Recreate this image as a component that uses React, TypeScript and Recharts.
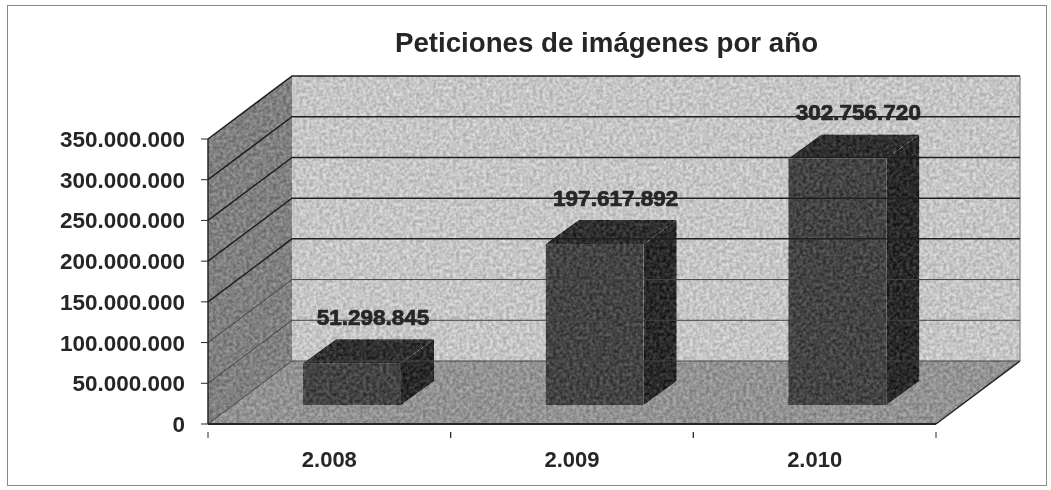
import { BarChart, Bar, XAxis, YAxis, ReferenceArea, ReferenceLine, LabelList } from 'recharts';

const years = ['2.008', '2.009', '2.010'];
const requests = [51298845, 197617892, 302756720];
const yTicks = [0, 50000000, 100000000, 150000000, 200000000, 250000000, 300000000, 350000000];

const chartData = years.map((year, i) => ({ year, requests: requests[i] }));

// 3D look: how far the walls and the bars recede
const DEPTH_X = 84;
const DEPTH_Y = 63;
const BAR_SHIFT_X = 23;
const BAR_SHIFT_Y = 19;
const BAR_DEPTH_X = 33;
const BAR_DEPTH_Y = 24;

const BAND = (936 - 208) / years.length;
const font = '"Liberation Sans", Arial, sans-serif';
const ink = '#262626';

const formatNum = (v: number) => String(v).replace(/\B(?=(\d{3})+(?!\d))/g, '.');

function Walls({ x, y, width, height }: any) {
  const b = y + height;
  const r = x + width;
  return (
    <g>
      <defs>
        <filter id="grain" x="0" y="0" width="100%" height="100%" colorInterpolationFilters="sRGB">
          <feTurbulence type="fractalNoise" baseFrequency="0.3" numOctaves="2" seed="4" result="t" />
          <feColorMatrix in="t" values="1.8 0 0 0 -0.4  1.8 0 0 0 -0.4  1.8 0 0 0 -0.4  0 0 0 0 1" result="noise" />
          <feComposite in="SourceGraphic" in2="noise" operator="arithmetic" k1="0" k2="1" k3="0.2" k4="-0.1" result="mix" />
          <feComposite in="mix" in2="SourceAlpha" operator="in" />
        </filter>
      </defs>
      <polygon filter="url(#grain)" fill="#c6c6c6" points={`${x + DEPTH_X},${y - DEPTH_Y} ${r + DEPTH_X},${y - DEPTH_Y} ${r + DEPTH_X},${b - DEPTH_Y} ${x + DEPTH_X},${b - DEPTH_Y}`} />
      <polygon filter="url(#grain)" fill="#808080" points={`${x},${y} ${x + DEPTH_X},${y - DEPTH_Y} ${x + DEPTH_X},${b - DEPTH_Y} ${x},${b}`} />
      <polygon filter="url(#grain)" fill="#939393" points={`${x},${b} ${r},${b} ${r + DEPTH_X},${b - DEPTH_Y} ${x + DEPTH_X},${b - DEPTH_Y}`} />
      <polyline fill="none" stroke="#999" strokeWidth={1.5} points={`${r + DEPTH_X},${b - DEPTH_Y} ${r + DEPTH_X},${y - DEPTH_Y}`} />
      <polyline fill="none" stroke={ink} strokeWidth={1.5} points={`${r},${b} ${r + DEPTH_X},${b - DEPTH_Y}`} />
    </g>
  );
}

function GridLine({ x1, y1, x2, y2, thin }: any) {
  return (
    <polyline
      fill="none"
      stroke={thin ? '#444' : '#1f1f1f'}
      strokeWidth={thin ? 1 : 1.5}
      points={`${x1},${y1} ${x1 + DEPTH_X},${y1 - DEPTH_Y} ${x2 + DEPTH_X},${y2 - DEPTH_Y}`}
    />
  );
}

function Box({ x, y, width, height }: any) {
  const fx = x + BAR_SHIFT_X;
  const fy = y - BAR_SHIFT_Y;
  const r = fx + width;
  const b = fy + height;
  return (
    <g>
      <polygon filter="url(#grain)" fill="#2f2f2f" points={`${fx},${fy} ${fx + BAR_DEPTH_X},${fy - BAR_DEPTH_Y} ${r + BAR_DEPTH_X},${fy - BAR_DEPTH_Y} ${r},${fy}`} />
      <polygon filter="url(#grain)" fill="#292929" points={`${r},${fy} ${r + BAR_DEPTH_X},${fy - BAR_DEPTH_Y} ${r + BAR_DEPTH_X},${b - BAR_DEPTH_Y} ${r},${b}`} />
      <rect filter="url(#grain)" fill="#444444" x={fx} y={fy} width={width} height={height} />
    </g>
  );
}

function ValueLabel({ x, y, width, value }: any) {
  return (
    <text
      x={x + width / 2 + 44}
      y={y - 63}
      textAnchor="middle"
      dominantBaseline="middle"
      fontFamily={font}
      fontWeight="bold"
      fontSize={22.5}
      fill={ink}
      stroke={ink}
      strokeWidth={0.7}
    >
      {formatNum(value)}
    </text>
  );
}

function YearTick({ x, y, payload }: any) {
  return (
    <g>
      <line x1={x - BAND / 2} x2={x - BAND / 2} y1={y} y2={y + 6} stroke={ink} />
      <line x1={x + BAND / 2} x2={x + BAND / 2} y1={y} y2={y + 6} stroke={ink} />
      <text x={x} y={y + 29} textAnchor="middle" dominantBaseline="middle" fontFamily={font} fontWeight="bold" fontSize={22} fill={ink}>
        {payload.value}
      </text>
    </g>
  );
}

export default function App() {
  return (
    <div style={{ position: 'absolute', left: 0, top: 0, width: 1051, height: 490, background: '#fff', filter: 'blur(0.7px)' }}>
      <div style={{ position: 'absolute', left: 7, top: 5, width: 1038, height: 479, border: '1px solid #8a8a8a' }} />
      <div style={{ position: 'absolute', left: 0, width: 1213, top: 27, textAlign: 'center', fontFamily: font, fontWeight: 'bold', fontSize: 27.7, color: ink }}>
        Peticiones de imágenes por año
      </div>
      <div style={{ position: 'absolute', left: 0, top: 0 }}>
        <BarChart width={1051} height={490} data={chartData} margin={{ top: 139, right: 115, bottom: 0, left: 0 }} barSize={98}>
          <XAxis dataKey="year" height={66} tickLine={false} axisLine={{ stroke: ink, strokeWidth: 2 }} tick={<YearTick />} interval={0} />
          <YAxis
            width={208}
            domain={[0, 350000000]}
            ticks={yTicks}
            tickFormatter={formatNum}
            interval={0}
            axisLine={{ stroke: ink, strokeWidth: 1.5 }}
            tickLine={{ stroke: ink }}
            tickSize={7}
            tickMargin={16}
            tick={{ fontFamily: font, fontWeight: 'bold', fontSize: 22.5, fill: ink }}
          />
          <ReferenceArea y1={0} y2={350000000} shape={<Walls />} />
          {yTicks.map(t => (
            <ReferenceLine key={t} y={t} shape={<GridLine thin={t <= 100000000} />} />
          ))}
          <Bar dataKey="requests" shape={<Box />} isAnimationActive={false}>
            <LabelList dataKey="requests" content={<ValueLabel />} />
          </Bar>
        </BarChart>
      </div>
    </div>
  );
}
